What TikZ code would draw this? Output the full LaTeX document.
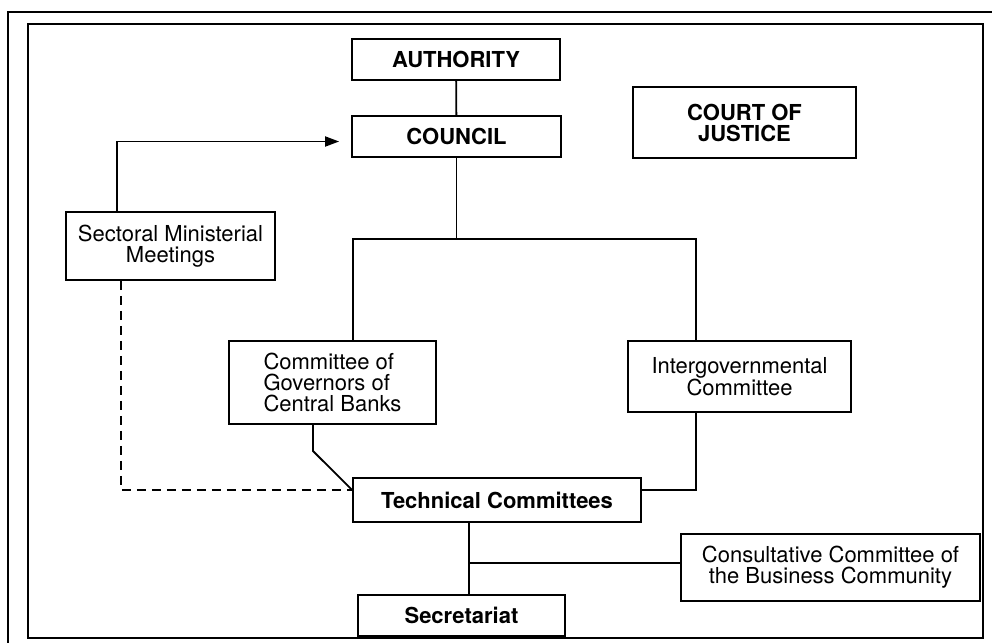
\documentclass[tikz,border=0pt]{standalone}
\usepackage{fontspec}
\setmainfont{TeX Gyre Heros}
\usetikzlibrary{arrows.meta}
\begin{document}
\begin{tikzpicture}[x=1pt,y=-1pt,
	box/.style={draw,line width=1.8pt,inner sep=2pt,align=center,font=\fontsize{22}{21}\selectfont},
	bbox/.style={box,font=\fontsize{22}{21}\selectfont\bfseries},
	link/.style={line width=1.8pt},
	>={Triangle[length=14pt,width=10pt]}]
	\useasboundingbox (0,0) rectangle (992,643);
	% frames
	\draw[line width=1.8pt] (992,12)--(8,12)--(8,643);
	\draw[line width=2.5pt] (28,24) rectangle (983,638);
	
	\node[bbox,minimum width=208pt,minimum height=41pt] (auth) at (456,59.5) {AUTHORITY};
	\node[bbox,minimum width=209pt,minimum height=41pt] (council) at (456.5,136.5) {COUNCIL};
	\node[bbox,minimum width=223pt,minimum height=71pt] (court) at (744.5,122.5) {COURT OF\\JUSTICE};
	\node[box,minimum width=209pt,minimum height=68pt] (sect) at (170.5,246) {Sectoral Ministerial\\Meetings};
	\node[box,align=left,minimum width=207pt,minimum height=83pt] (cgov) at (332.5,382.5) {Committee of\\Governors of\\Central Banks};
	\node[box,minimum width=223pt,minimum height=71pt] (inter) at (739.5,376.5) {Intergovernmental\\Committee};
	\node[bbox,minimum width=288pt,minimum height=44pt] (tech) at (497,500) {Technical Committees};
	\node[box,minimum width=299pt,minimum height=67pt] (consult) at (830.5,567.5) {Consultative Committee of\\the Business Community};
	\node[bbox,minimum width=207pt,minimum height=41pt] (secr) at (461.5,615.5) {Secretariat};
	
	\coordinate (bl) at (353,239);
	\coordinate (br) at (696,239);
	\coordinate (up) at (117,0);
	\coordinate (dn) at (121,0);
	\coordinate (kink) at (313,451);
	\coordinate (ts) at (469,563);
	
	\draw[link] (auth) -- (council);
	\draw[link,->,shorten >=12pt] (sect.north -| up) |- ([yshift=-5pt]council.west);
	\draw[link] (council.south) -- (council.south |- bl);
	\draw[link] (cgov.north -| bl) |- (br) -- (inter.north -| br);
	\draw[link] (cgov.south -| kink) -- (kink) -- ([yshift=10pt]tech.west);
	\draw[link,dash pattern=on 9pt off 6pt] (sect.south -| dn) |- ([yshift=10pt]tech.west);
	\draw[link] (inter.south -| br) |- ([yshift=10pt]tech.east);
	\draw[link] (tech.south -| ts) -- (secr.north -| ts);
	\draw[link] (ts) -- (consult.west |- ts);
\end{tikzpicture}
\end{document}
